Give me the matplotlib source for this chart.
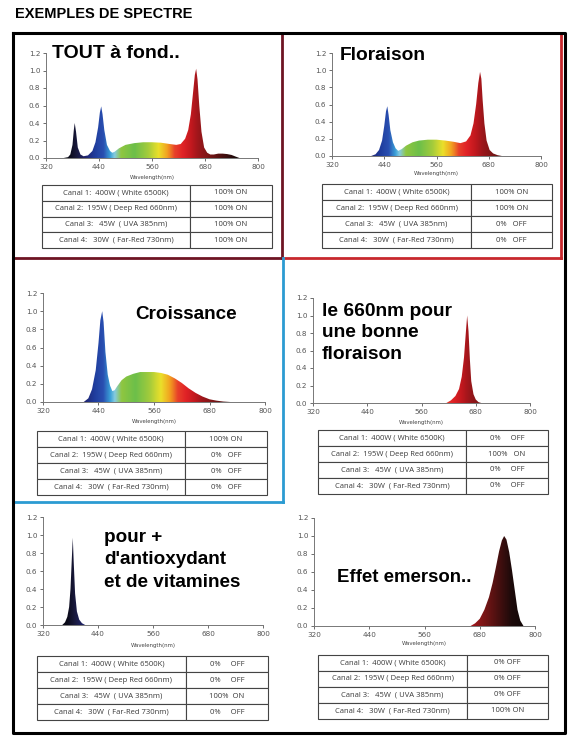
import numpy as np
import matplotlib
matplotlib.use("Agg")
import matplotlib.pyplot as plt
from matplotlib.colors import LinearSegmentedColormap
from matplotlib.patches import Polygon

W, H = 578, 750

# --- donnees ---
page_title = "EXEMPLES DE SPECTRE"
canals = ["Canal 1:  400W ( White 6500K)",
          "Canal 2:  195W ( Deep Red 660nm)",
          "Canal 3:   45W  ( UVA 385nm)",
          "Canal 4:   30W  ( Far-Red 730nm)"]
xticks = [320, 440, 560, 680, 800]
yticks = [0.0, 0.2, 0.4, 0.6, 0.8, 1.0, 1.2]

wl_tout = [360, 370, 375, 380, 383, 385, 388, 392, 398, 405, 415, 425, 432, 438, 442, 445, 448, 452,
           458, 465, 470, 475, 485, 500, 520, 540, 560, 580, 600, 615, 625, 635, 642, 648, 653, 657,
           660, 663, 667, 672, 678, 685, 692, 700, 710, 720, 730, 740, 750, 758]
int_tout = [0, 0.01, 0.04, 0.15, 0.32, 0.40, 0.30, 0.12, 0.04, 0.02, 0.03, 0.08, 0.18, 0.35, 0.52,
            0.59, 0.50, 0.32, 0.15, 0.08, 0.06, 0.07, 0.11, 0.15, 0.17, 0.18, 0.18, 0.175, 0.16, 0.15,
            0.16, 0.22, 0.32, 0.50, 0.75, 0.95, 1.02, 0.90, 0.60, 0.30, 0.12, 0.06, 0.04, 0.04, 0.05,
            0.05, 0.045, 0.035, 0.015, 0]
etat_tout = ["100% ON", "100% ON", "100% ON", "100% ON"]

wl_flo = [410, 420, 428, 435, 440, 444, 447, 450, 454, 460, 466, 472, 480, 490, 505, 520, 540, 560,
          580, 600, 615, 628, 638, 645, 651, 656, 660, 663, 666, 670, 675, 682, 690, 700, 710]
int_flo = [0, 0.02, 0.07, 0.18, 0.35, 0.52, 0.58, 0.48, 0.30, 0.16, 0.09, 0.06, 0.08, 0.12, 0.16,
           0.18, 0.19, 0.19, 0.18, 0.165, 0.15, 0.17, 0.24, 0.38, 0.60, 0.85, 0.98, 0.90, 0.65, 0.38,
           0.18, 0.07, 0.03, 0.01, 0]
etat_flo = ["100% ON", "100% ON", "0%   OFF", "0%   OFF"]

wl_crois = [408, 418, 426, 434, 440, 444, 448, 451, 455, 460, 465, 470, 475, 480, 490, 500, 515, 530,
            545, 560, 575, 590, 605, 620, 635, 650, 665, 680, 695, 710, 725]
int_crois = [0, 0.04, 0.14, 0.35, 0.65, 0.90, 1.0, 0.88, 0.55, 0.30, 0.18, 0.12, 0.13, 0.17, 0.24,
             0.28, 0.31, 0.33, 0.33, 0.33, 0.32, 0.30, 0.26, 0.21, 0.15, 0.10, 0.06, 0.03, 0.015,
             0.005, 0]
etat_crois = ["100% ON", "0%   OFF", "0%   OFF", "0%   OFF"]

wl_660 = [615, 625, 635, 643, 649, 654, 658, 661, 664, 667, 670, 675, 680, 686, 692]
int_660 = [0, 0.03, 0.08, 0.16, 0.30, 0.52, 0.80, 1.0, 0.82, 0.50, 0.25, 0.10, 0.04, 0.01, 0]
etat_660 = ["0%     OFF", "100%   ON", "0%     OFF", "0%     OFF"]

wl_uva = [362, 368, 373, 377, 380, 383, 385, 387, 390, 394, 399, 405, 412]
int_uva = [0, 0.03, 0.09, 0.20, 0.40, 0.75, 0.97, 0.70, 0.35, 0.15, 0.06, 0.02, 0]
etat_uva = ["0%     OFF", "0%     OFF", "100%  ON", "0%     OFF"]

wl_fr = [660, 670, 680, 690, 700, 708, 715, 722, 728, 733, 738, 744, 750, 756, 762, 768, 775]
int_fr = [0, 0.03, 0.08, 0.18, 0.32, 0.48, 0.65, 0.83, 0.95, 1.0, 0.96, 0.82, 0.62, 0.40, 0.18, 0.06, 0]
etat_fr = ["0% OFF", "0% OFF", "0% OFF", "100% ON"]

titre_tout = "TOUT à fond.."
titre_flo = "Floraison"
titre_crois = "Croissance"
titre_660 = "le 660nm pour\nune bonne\nfloraison"
titre_uva = "pour +\nd'antioxydant\net de vitamines"
titre_fr = "Effet emerson.."

# couleurs du spectre visibles
stops = [(320, "#050508"), (372, "#0a0a18"), (390, "#1a1a40"), (410, "#1f2470"), (430, "#1f3c9c"),
         (450, "#2a50b2"), (465, "#3aa0d8"), (475, "#86cbe0"), (490, "#8fc640"), (520, "#6cbf4a"),
         (550, "#a2cb3c"), (575, "#ebe02a"), (595, "#f2a020"), (612, "#e8402a"), (630, "#e02226"),
         (650, "#c0181e"), (665, "#9e161b"), (690, "#7a1616"), (720, "#4a1010"), (750, "#1c0a0a"),
         (800, "#080404")]
cmap = LinearSegmentedColormap.from_list(
    "spectre", [((w - 320) / 480, c) for w, c in stops])

fig = plt.figure(figsize=(W / 100, H / 100), dpi=100)
bold = dict(family=["Liberation Sans", "DejaVu Sans"], weight="bold", color="black")


def fx(x):
    return x / W


def fy(y):
    return 1 - y / H


# cadres
bg = fig.add_axes([0, 0, 1, 1])
bg.set_xlim(0, W)
bg.set_ylim(H, 0)
bg.axis("off")
bg.plot([282, 282], [33, 258], color="#6e1423", lw=2.0)
bg.plot([13, 282], [258, 258], color="#6e1423", lw=2.0)
bg.plot([561, 561], [33, 258], color="#c8282d", lw=2.0)
bg.plot([283, 561], [258, 258], color="#c8282d", lw=2.0)
bg.plot([283, 283], [258, 502], color="#2b9bd2", lw=2.0)
bg.plot([13, 283], [502, 502], color="#2b9bd2", lw=2.0)
bg.plot([13, 565, 565, 13, 13], [33, 33, 733, 733, 33], color="black", lw=2.2)

fig.text(fx(15), fy(14), page_title, fontsize=10.5, va="center", ha="left", **bold)

grad = np.linspace(320, 800, 800).reshape(1, -1)


def panel(box, wl, inten, tbox, etats, xlab_y):
    x0, x1, y0, y1 = box
    ax = fig.add_axes([fx(x0), fy(y1), fx(x1 - x0), (y1 - y0) / H])
    ax.set_xlim(320, 800)
    ax.set_ylim(0, 1.2)
    poly = Polygon(np.column_stack([wl, inten]), closed=True, facecolor="none", edgecolor="none")
    ax.add_patch(poly)
    im = ax.imshow(grad, extent=[320, 800, 0, 1.2], aspect="auto", cmap=cmap,
                   vmin=320, vmax=800, origin="lower", interpolation="bilinear")
    im.set_clip_path(poly)
    for s in ["top", "right"]:
        ax.spines[s].set_visible(False)
    for s in ["left", "bottom"]:
        ax.spines[s].set_color("#777777")
        ax.spines[s].set_linewidth(0.7)
    ax.set_xticks(xticks)
    ax.set_yticks(yticks)
    ax.set_yticklabels(["%.1f" % v for v in yticks])
    ax.tick_params(labelsize=5.2, colors="#555555", length=2.5, width=0.6, pad=1.5)
    fig.text(fx((x0 + x1) / 2), fy(xlab_y), "Wavelength(nm)", fontsize=3.9,
             ha="center", va="center", color="#444444")
    # tableau
    tx0, tx1, ty0, ty1, tdiv = tbox
    tax = fig.add_axes([fx(tx0), fy(ty1), fx(tx1 - tx0), (ty1 - ty0) / H])
    tax.axis("off")
    w1 = (tdiv - tx0) / (tx1 - tx0)
    rows = [[c, e] for c, e in zip(canals, etats)]
    tb = tax.table(cellText=rows, colWidths=[w1, 1 - w1], bbox=[0, 0, 1, 1], cellLoc="center")
    tb.auto_set_font_size(False)
    tb.set_fontsize(5.5)
    for cell in tb.get_celld().values():
        cell.set_edgecolor("#444444")
        cell.set_linewidth(0.8)
        cell.get_text().set_color("#3a3a3a")
        cell.get_text().set_family(["Open Sans", "DejaVu Sans"])
    return ax


panel((46, 258, 53, 158), wl_tout, int_tout, (42, 272, 185, 248, 190), etat_tout, 177)
panel((332, 541, 53, 156), wl_flo, int_flo, (322, 552, 184, 248, 471), etat_flo, 174)
panel((43, 265, 293, 402), wl_crois, int_crois, (37, 267, 431, 495, 185), etat_crois, 421)
panel((313, 530, 298, 403), wl_660, int_660, (318, 548, 430, 494, 466), etat_660, 423)
panel((43, 263, 517, 625), wl_uva, int_uva, (37, 268, 656, 720, 186), etat_uva, 645)
panel((314, 535, 518, 626), wl_fr, int_fr, (318, 548, 655, 719, 467), etat_fr, 643)

fig.text(fx(52), fy(53), titre_tout, fontsize=14, ha="left", va="center", **bold)
fig.text(fx(340), fy(55), titre_flo, fontsize=13.8, ha="left", va="center", **bold)
fig.text(fx(135), fy(314), titre_crois, fontsize=13.6, ha="left", va="center", **bold)
fig.text(fx(322), fy(333), titre_660, fontsize=13.8, ha="left", va="center", linespacing=1.38, **bold)
fig.text(fx(104), fy(560), titre_uva, fontsize=13.6, ha="left", va="center", linespacing=1.43, **bold)
fig.text(fx(337), fy(577), titre_fr, fontsize=13.4, ha="left", va="center", **bold)

fig.savefig("out.png", dpi=100)
